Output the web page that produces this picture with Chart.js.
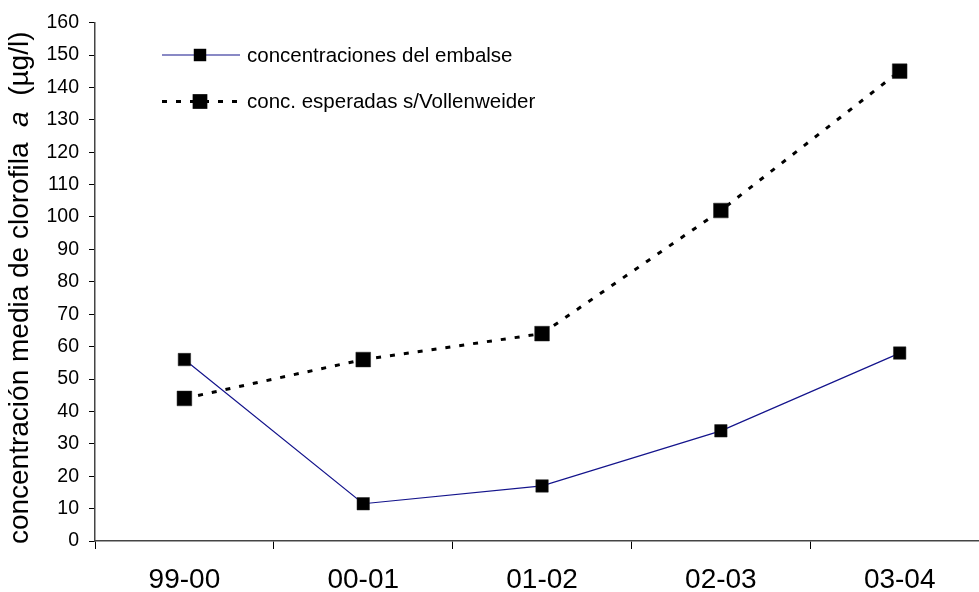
<!DOCTYPE html>
<html>
<head>
<meta charset="utf-8">
<script src="https://cdn.jsdelivr.net/npm/chart.js@4.4.0/dist/chart.umd.min.js"></script>
<style>
  html, body { margin: 0; padding: 0; background: #fff; overflow: hidden; }
  #wrap { width: 1000px; height: 592px; position: relative; }
</style>
</head>
<body>
<div id="wrap"><canvas id="chart"></canvas></div>
<script>
const categories = ['99-00', '00-01', '01-02', '02-03', '03-04'];
const embalse = [56, 11.5, 17, 34, 58];
const vollenweider = [44, 56, 64, 102, 145];
const seriesNames = ['concentraciones del embalse', 'conc. esperadas s/Vollenweider'];
const yMin = 0, yMax = 160, yStep = 10;
const yTitleParts = ['concentración media de clorofila  ', 'a', '  (µg/l)'];

const FONT = '"Liberation Sans", Arial, sans-serif';

// legend drawn inside the plot, like the original
const innerLegend = {
    id: 'innerLegend',
    afterDraw(chart) {
        const ctx = chart.ctx;
        ctx.save();
        chart.data.datasets.forEach((ds, i) => {
            const y = 55 + i * 46.5;
            ctx.beginPath();
            ctx.setLineDash(ds.borderDash || []);
            ctx.strokeStyle = ds.borderColor;
            ctx.lineWidth = ds.borderWidth;
            ctx.moveTo(162, y);
            ctx.lineTo(240, y);
            ctx.stroke();
            ctx.setLineDash([]);
            const s = ds.pointRadius * Math.SQRT2;
            ctx.fillStyle = '#000';
            ctx.fillRect(200 - s / 2, y - s / 2, s, s);
            ctx.font = '20.5px ' + FONT;
            ctx.textBaseline = 'middle';
            ctx.textAlign = 'left';
            ctx.fillText(ds.label, 247, y + 1);
        });
        ctx.restore();
    }
};

// rotated y title with italic "a"
const yTitle = {
    id: 'yTitle',
    afterDraw(chart) {
        const ctx = chart.ctx;
        const area = chart.chartArea;
        const size = 28;
        const fonts = [size + 'px ' + FONT, 'italic ' + size + 'px ' + FONT, size + 'px ' + FONT];
        ctx.save();
        let total = 0;
        const widths = yTitleParts.map((t, i) => {
            ctx.font = fonts[i];
            const w = ctx.measureText(t).width;
            total += w;
            return w;
        });
        ctx.translate(20, (area.top + area.bottom) / 2 + 6);
        ctx.rotate(-Math.PI / 2);
        ctx.fillStyle = '#000';
        ctx.textBaseline = 'middle';
        ctx.textAlign = 'left';
        let x = -total / 2;
        yTitleParts.forEach((t, i) => {
            ctx.font = fonts[i];
            ctx.fillText(t, x, 0);
            x += widths[i];
        });
        ctx.restore();
    }
};

new Chart(document.getElementById('chart'), {
    type: 'line',
    data: {
        labels: categories,
        datasets: [{
            label: seriesNames[0],
            data: embalse,
            borderColor: '#14148c',
            borderWidth: 1.2,
            pointStyle: 'rect',
            pointRadius: 8.8,
            pointBackgroundColor: '#000',
            pointBorderColor: '#222',
            pointBorderWidth: 0.5,
            tension: 0,
            order: 0
        }, {
            label: seriesNames[1],
            data: vollenweider,
            borderColor: '#000',
            borderWidth: 3,
            borderDash: [5, 9],
            pointStyle: 'rect',
            pointRadius: 10.4,
            pointBackgroundColor: '#000',
            pointBorderColor: '#222',
            pointBorderWidth: 0.5,
            tension: 0,
            order: 1
        }]
    },
    options: {
        responsive: true,
        maintainAspectRatio: false,
        animation: false,
        layout: { padding: { top: 22.6, right: 10, left: 0, bottom: 0 } },
        plugins: {
            legend: { display: false },
            tooltip: { enabled: false }
        },
        scales: {
            x: {
                offset: true,
                afterFit(scale) { scale.height = 51; },
                grid: {
                    offset: true,
                    drawOnChartArea: false,
                    drawTicks: true,
                    tickLength: 8,
                    color: '#000'
                },
                border: { display: true, color: '#444', width: 1.5 },
                ticks: {
                    color: '#000',
                    padding: 14,
                    maxRotation: 0,
                    font: { family: FONT, size: 28 }
                }
            },
            y: {
                min: yMin,
                max: yMax,
                afterFit(scale) { scale.width = 95; },
                grid: {
                    drawOnChartArea: false,
                    drawTicks: true,
                    tickLength: 6,
                    color: '#000'
                },
                border: { display: true, color: '#444', width: 1.5 },
                ticks: {
                    stepSize: yStep,
                    color: '#000',
                    padding: 10,
                    font: { family: FONT, size: 19.5 }
                }
            }
        }
    },
    plugins: [innerLegend, yTitle]
});
</script>
</body>
</html>
